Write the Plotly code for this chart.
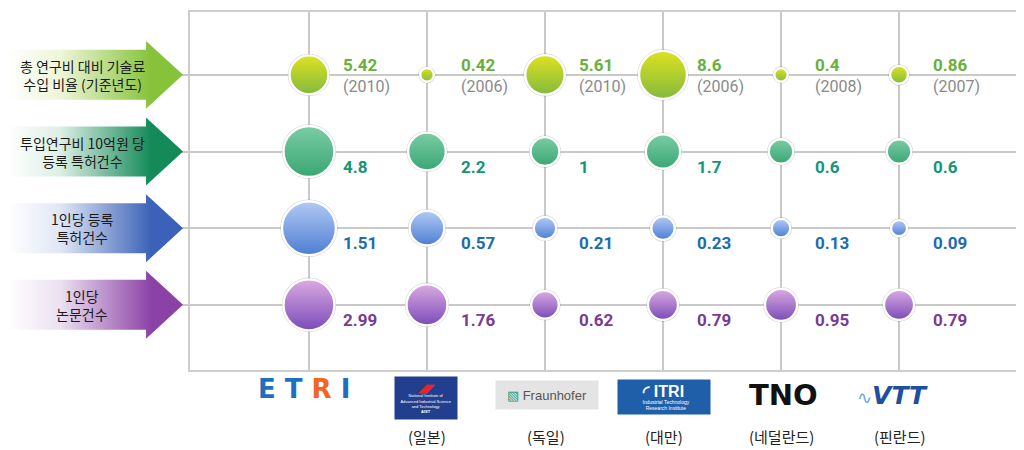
import plotly.graph_objects as go
import numpy as np

# ---------------- data ----------------
metrics = ["총 연구비 대비 기술료<br>수입 비율 (기준년도)",
           "투입연구비 10억원 당<br>등록 특허건수",
           "1인당 등록<br>특허건수",
           "1인당<br>논문건수"]
institutes = ["ETRI", "AIST", "Fraunhofer", "ITRI", "TNO", "VTT"]
countries = ["", "(일본)", "(독일)", "(대만)", "(네덜란드)", "(핀란드)"]
tech_fee_ratio = [5.42, 0.42, 5.61, 8.6, 0.4, 0.86]
base_years = ["(2010)", "(2006)", "(2010)", "(2006)", "(2008)", "(2007)"]
patents_per_billion = [4.8, 2.2, 1, 1.7, 0.6, 0.6]
patents_per_person = [1.51, 0.57, 0.21, 0.23, 0.13, 0.09]
papers_per_person = [2.99, 1.76, 0.62, 0.79, 0.95, 0.79]
rows = [tech_fee_ratio, patents_per_billion, patents_per_person, papers_per_person]

# ---------------- style ----------------
styles = [
    dict(top="#dde220", bottom="#84ba3e", text="#67b13c", arrow="#86c23a", tint="#eef6d8", dmin=4, dmax=48),
    dict(top="#7acda4", bottom="#3aa674", text="#14957a", arrow="#138a58", tint="#dcefe4", dmin=10, dmax=51),
    dict(top="#b2caf4", bottom="#4d7ed3", text="#1c6cb0", arrow="#3b62b8", tint="#e0e6f5", dmin=4, dmax=54),
    dict(top="#dcaae2", bottom="#7a4cb8", text="#7a3a96", arrow="#8b42a6", tint="#ece0f0", dmin=8, dmax=51),
]
OFF = 8                 # page body margin
W, H = 1016, 442
ML, MR, MT, MB = 0, 6, 4, 80
PW = W - ML - MR        # 1010
PH = H - MT - MB        # 358
BOX_LEFT = 182
ROW_PX = 76.7

def px_x(p):            # window pixel -> paper x
    return (p - OFF) / PW

def px_y(p):            # window pixel -> paper y
    return (H - MB - (p - OFF)) / PH

fig = go.Figure()

# left arrows (decoration) on a pixel-based x axis
for r, st in enumerate(styles):
    bh, hh = 25 / ROW_PX, 34 / ROW_PX
    ax = [0, 138, 138, 175, 138, 138, 0, 0]
    ay = [r - bh, r - bh, r - hh, r, r + hh, r + bh, r + bh, r - bh]
    fig.add_trace(go.Scatter(
        x=ax, y=ay, xaxis="x2", yaxis="y", mode="lines", fill="toself",
        line=dict(width=0, color=st["arrow"]),
        fillgradient=dict(type="horizontal",
                          colorscale=[[0, "#ffffff"], [0.3, st["tint"]], [0.82, st["arrow"]], [1, st["arrow"]]]),
        hoverinfo="skip", showlegend=False))
    fig.add_annotation(x=74, y=r, xref="x2", yref="y", text=metrics[r], showarrow=False,
                       font=dict(family="Noto Sans CJK KR", size=14, color="#1a1a1a"),
                       align="center", xanchor="center", yanchor="middle")

# bubbles
cols = list(range(len(institutes)))
for r, (vals, st) in enumerate(zip(rows, styles)):
    vmax = max(vals)
    d = [st["dmin"] + (st["dmax"] - st["dmin"]) * np.sqrt(v / vmax) for v in vals]
    fig.add_trace(go.Scatter(
        x=cols, y=[r] * len(cols), mode="markers",
        marker=dict(size=[s + 3.5 for s in d], color="rgba(0,0,0,0.17)", line=dict(width=0), opacity=1),
        hoverinfo="skip", showlegend=False))
    fig.add_trace(go.Scatter(
        x=cols, y=[r] * len(cols), mode="markers",
        marker=dict(size=d, color=st["top"], opacity=1,
                    gradient=dict(type="vertical", color=st["bottom"]),
                    line=dict(width=2.4, color="white")),
        name=metrics[r].replace("<br>", " "), showlegend=False,
        hovertemplate="%{x}: %{customdata}<extra></extra>",
        customdata=vals))
    for c, v in enumerate(vals):
        if r == 0:
            fig.add_annotation(x=c, y=r, xref="x", yref="y", text=f"{v:g}", showarrow=False,
                               xanchor="left", yanchor="middle", xshift=32, yshift=10,
                               font=dict(family="Roboto", size=17, color=st["text"], weight=700))
            fig.add_annotation(x=c, y=r, xref="x", yref="y", text=base_years[c], showarrow=False,
                               xanchor="left", yanchor="middle", xshift=32, yshift=-12,
                               font=dict(family="Roboto", size=16, color="#8a8a8a"))
        else:
            fig.add_annotation(x=c, y=r, xref="x", yref="y", text=f"{v:g}", showarrow=False,
                               xanchor="left", yanchor="middle", xshift=32, yshift=-15,
                               font=dict(family="Roboto", size=17, color=st["text"], weight=700))

# institute "logos" as text boxes (window pixel positions)
col_px = [190 + (c + 1.008) * 118.2 for c in cols]

def logo(xp, yp, text, **kw):
    fig.add_annotation(x=px_x(xp), y=px_y(yp), xref="paper", yref="paper", showarrow=False,
                       xanchor="center", yanchor="middle", text=text, **kw)

logo(col_px[0] - 5, 389,
     "<b><span style='color:#1f6fc0'>E T </span><span style='color:#f26522'>R</span><span style='color:#1f6fc0'> I</span></b>",
     font=dict(family="DejaVu Sans", size=26))
logo(col_px[1] - 1, 398,
     "<span style='color:#e8252b;font-size:11px'><b>◢◤</b></span><br>National Institute of<br>Advanced Industrial Science<br>and Technology<br><b>AIST</b>",
     width=62, height=42, bgcolor="#213f8e", borderpad=0,
     font=dict(family="Liberation Sans", size=4, color="white"))
logo(col_px[2] + 1, 395, "<span style='color:#179c7d'>▧</span> Fraunhofer",
     width=100, height=26, bgcolor="#e4e4e4",
     font=dict(family="Liberation Sans", size=13, color="#555"))
logo(col_px[3], 397,
     "<span style='font-size:16px'><b>◜ ITRI</b></span><br>   Industrial Technology<br>   Research Institute",
     width=90, height=32, bgcolor="#1f5ea8", align="center",
     font=dict(family="Liberation Sans", size=5, color="white"))
logo(col_px[4] + 2, 395, "<b>TNO</b>", font=dict(family="DejaVu Sans", size=29, color="#111"))
logo(col_px[5] - 8, 395, "<span style='color:#6aa8de;font-size:18px'>∿</span><i><b>VTT</b></i>",
     font=dict(family="DejaVu Sans", size=25, color="#1f4f9e"))
for c, name in enumerate(countries):
    if name:
        logo(col_px[c], 437, name, font=dict(family="Noto Sans CJK KR", size=15, color="#222"))

grid = dict(showgrid=True, gridcolor="#c9c9c9", gridwidth=1.5, zeroline=False,
            showticklabels=False, ticks="", showline=True, mirror=True,
            linecolor="#cdcdcd", linewidth=1.5)
fig.update_layout(
    width=W, height=H, margin=dict(l=ML, r=MR, t=MT, b=MB),
    paper_bgcolor="white", plot_bgcolor="white", showlegend=False,
    xaxis=dict(domain=[BOX_LEFT / PW, 1], range=[-1.008, 6.008], tickvals=cols, **grid),
    yaxis=dict(range=[3.85, -0.82], tickvals=list(range(4)), **grid),
    xaxis2=dict(domain=[0, BOX_LEFT / PW], range=[0, BOX_LEFT], anchor="y", visible=False),
)
fig.write_html("out.html")
